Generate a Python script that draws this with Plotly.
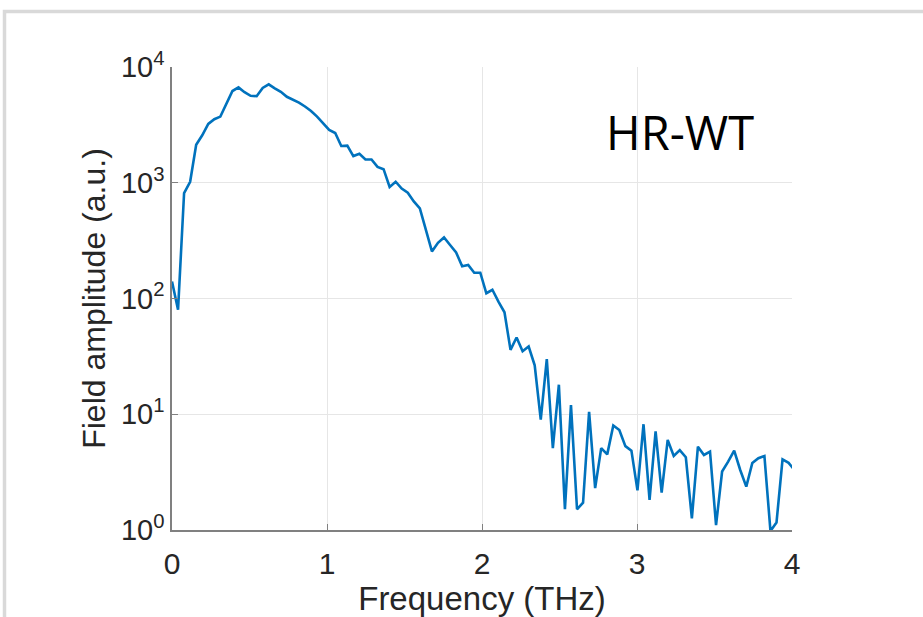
import plotly.graph_objects as go

# Frequency grid (THz)
freq_thz = [0.000, 0.039, 0.078, 0.117, 0.156, 0.195, 0.234, 0.273, 0.312, 0.351,
            0.390, 0.429, 0.468, 0.507, 0.546, 0.585, 0.624, 0.663, 0.702, 0.741,
            0.780, 0.819, 0.858, 0.897, 0.936, 0.975, 1.014, 1.053, 1.092, 1.131,
            1.170, 1.209, 1.248, 1.287, 1.326, 1.365, 1.404, 1.443, 1.482, 1.521,
            1.560, 1.599, 1.638, 1.677, 1.716, 1.755, 1.794, 1.833, 1.872, 1.911,
            1.950, 1.989, 2.028, 2.067, 2.106, 2.145, 2.184, 2.223, 2.262, 2.301,
            2.340, 2.379, 2.418, 2.457, 2.496, 2.535, 2.574, 2.613, 2.652, 2.691,
            2.730, 2.769, 2.808, 2.847, 2.886, 2.925, 2.964, 3.003, 3.042, 3.081,
            3.120, 3.159, 3.198, 3.237, 3.276, 3.315, 3.354, 3.393, 3.432, 3.471,
            3.510, 3.549, 3.588, 3.627, 3.666, 3.705, 3.744, 3.783, 3.822, 3.861,
            3.900, 3.939, 3.978, 4.017]

# Field amplitude (a.u.)
amplitude = [140, 80, 815, 1020, 2130, 2570, 3220, 3540, 3730, 4870,
             6200, 6660, 6060, 5640, 5600, 6600, 7080, 6540, 6100, 5530,
             5230, 4930, 4560, 4170, 3730, 3280, 2860, 2690, 2080, 2090,
             1700, 1780, 1590, 1590, 1370, 1310, 920, 1020, 890, 820,
             690, 600, 400, 255, 303, 337, 290, 250, 190, 195,
             167, 167, 111, 119, 94, 76, 36, 46, 35, 38.5,
             26.5, 9.0, 30, 5.1, 18, 1.51, 12, 1.51, 1.72, 10.5,
             2.3, 5.1, 4.5, 8.0, 7.3, 5.3, 4.85, 2.2, 8.2, 1.82,
             7.1, 2.1, 6.0, 4.36, 4.9, 4.25, 1.26, 5.25, 4.45, 4.75,
             1.1, 3.2, 3.9, 4.85, 3.3, 2.37, 3.8, 4.17, 4.36, 0.98,
             1.16, 4.07, 3.8, 3.3]

x_ticks = [0, 1, 2, 3, 4]
x_tick_labels = ["0", "1", "2", "3", "4"]
y_ticks = [1, 10, 100, 1000, 10000]
y_tick_labels = ["10<sup>0</sup>", "10<sup>1</sup>", "10<sup>2</sup>",
                 "10<sup>3</sup>", "10<sup>4</sup>"]

x_title = "Frequency (THz)"
y_title = "Field amplitude (a.u.)"
label_text = "HR-WT"

FONT = "Liberation Sans, Arial, Helvetica, sans-serif"
AXIS_COLOR = "#808080"
GRID_COLOR = "#e6e6e6"
TEXT_COLOR = "#262626"

fig = go.Figure()
fig.add_trace(go.Scatter(
    x=freq_thz, y=amplitude, mode="lines",
    line=dict(color="#0072BD", width=2.6),
    showlegend=False, hoverinfo="x+y",
))

W, H = 923, 617
PL, PT, PR, PB = 172, 67, 792, 530   # plot area in window pixels
L, T, R, B = PL, PT, W - PR, H - PB
pw = PR - PL
ph = PB - PT

def px_to_paper_x(px):
    return (px - PL) / pw

def px_to_paper_y(py):
    return (PB - py) / ph

fig.update_layout(
    width=W, height=H,
    margin=dict(l=L, r=R, t=T, b=B, pad=0, autoexpand=False),
    paper_bgcolor="white", plot_bgcolor="white",
    font=dict(family=FONT, color=TEXT_COLOR),
    xaxis=dict(
        range=[0, 4], tickvals=x_ticks, ticktext=x_tick_labels,
        automargin=False,
        showgrid=True, gridcolor=GRID_COLOR, gridwidth=1,
        zeroline=False, showline=True, linecolor=AXIS_COLOR, linewidth=1.5,
        ticks="inside", ticklen=6, tickwidth=1, tickcolor=AXIS_COLOR,
        tickfont=dict(size=30, color=TEXT_COLOR, family=FONT),
        ticklabelstandoff=6,
        title=dict(text=x_title, font=dict(size=33, color=TEXT_COLOR, family=FONT),
                   standoff=10),
    ),
    yaxis=dict(
        type="log", range=[0, 4], tickvals=y_ticks, ticktext=y_tick_labels,
        automargin=False,
        showgrid=True, gridcolor=GRID_COLOR, gridwidth=1,
        zeroline=False, showline=True, linecolor=AXIS_COLOR, linewidth=1.5,
        ticks="inside", ticklen=6, tickwidth=1, tickcolor=AXIS_COLOR,
        tickfont=dict(size=29, color=TEXT_COLOR, family=FONT),
        title=dict(text=y_title, font=dict(size=32, color=TEXT_COLOR, family=FONT),
                   standoff=6),
    ),
    annotations=[dict(
        text=label_text, xref="paper", yref="paper",
        x=px_to_paper_x(680), y=px_to_paper_y(132),
        xanchor="center", yanchor="middle", showarrow=False,
        font=dict(family="Open Sans, Lato, sans-serif", size=47, color="black"),
    )],
    shapes=[dict(
        type="rect", xref="paper", yref="paper",
        x0=px_to_paper_x(4.5), x1=px_to_paper_x(960),
        y0=px_to_paper_y(680), y1=px_to_paper_y(11.5),
        line=dict(color="#d9d9d9", width=3.5), fillcolor="rgba(0,0,0,0)",
        layer="below",
    )],
)

fig.write_html(
    "out.html",
    config={"displayModeBar": False},
    post_script="document.body.style.margin='0';document.body.style.overflow='hidden';",
)
